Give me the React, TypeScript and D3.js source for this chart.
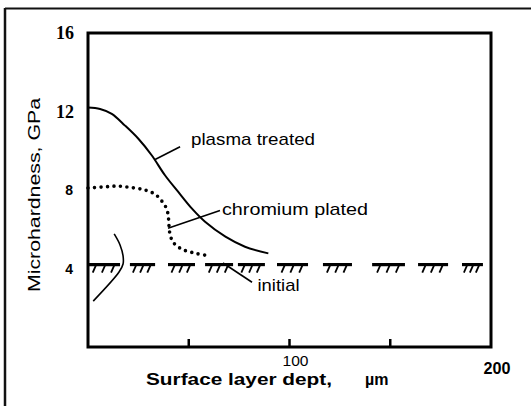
import React from "react";
import * as d3 from "d3";

// ---- data ----
const plasmaX = [0, 6, 11.8, 18.4, 25, 31.6, 38.2, 44.8, 51.5, 58.1, 68.2, 77.9, 89.5];
const plasmaY = [12.2, 12.13, 11.88, 11.28, 10.61, 9.77, 8.75, 7.9, 7.06, 6.38, 5.62, 5.11, 4.77];

const chromX = [0, 8.4, 14.9, 21.7, 28.3, 33.3, 36.6, 39.1, 39.9, 40.2, 40.7, 42.3, 46.5, 53.1, 59.7];
const chromY = [8.1, 8.16, 8.2, 8.12, 8.0, 7.78, 7.44, 7.02, 6.6, 6.17, 5.75, 5.33, 4.99, 4.78, 4.65];

const initialValue = 4.2;
const initialStart = [0, 20.8, 39.7, 58.1, 74.4, 93.8, 116.6, 141, 163.8, 185.6];
const initialEnd = [15.9, 33.3, 53.1, 72, 87.8, 109.2, 131, 157.3, 178.7, 196];

const bracketX = [13, 15.9, 17.4, 17.4, 15.4, 2.6];
const bracketY = [5.76, 5.2, 4.64, 4.23, 3.82, 2.34];

const yTicks = [16, 12, 8, 4];
const xTicks = [50, 100, 150];
const xTickLabels = [100, 200];

const W = 531;
const H = 406;

export default function App() {
  const x = d3.scaleLinear().domain([0, 200]).range([88, 491]);
  const y = d3.scaleLinear().domain([0, 16]).range([347, 33]);

  const line = d3
    .line<[number, number]>()
    .x((d) => x(d[0]))
    .y((d) => y(d[1]))
    .curve(d3.curveCatmullRom.alpha(0.5));

  const plasma = plasmaX.map((v, i) => [v, plasmaY[i]] as [number, number]);
  const chrom = chromX.map((v, i) => [v, chromY[i]] as [number, number]);
  const bracket = bracketX.map((v, i) => [v, bracketY[i]] as [number, number]);

  const sans = "'Liberation Sans', Arial, Helvetica, sans-serif";
  const serif = "'Liberation Serif', 'Times New Roman', serif";

  // leader lines in data units
  const leaders: [number, number, number, number][] = [
    [33.3, 9.55, 45.7, 10.2],
    [39.7, 6.05, 65.5, 6.95],
    [67, 4.28, 81.4, 3.3],
  ];

  const y0 = y(initialValue);

  return (
    <svg
      width={W}
      height={H}
      viewBox={`0 0 ${W} ${H}`}
      style={{ position: "absolute", left: 0, top: 0, background: "#fff" }}
    >
      <rect x={0} y={0} width={W} height={H} fill="#fff" />
      {/* outer frame */}
      <line x1={5} y1={8.5} x2={531} y2={8.5} stroke="#111" strokeWidth={2} />
      <line x1={5} y1={8} x2={5} y2={406} stroke="#111" strokeWidth={2.5} />

      {/* plot box */}
      <rect
        x={x(0)}
        y={y(16)}
        width={x(200) - x(0)}
        height={y(0) - y(16)}
        fill="none"
        stroke="#000"
        strokeWidth={3}
      />

      {/* x ticks (inside, upward) */}
      {xTicks.map((t) => (
        <line key={t} x1={x(t)} x2={x(t)} y1={y(0)} y2={y(0) - 8} stroke="#000" strokeWidth={2.5} />
      ))}

      {/* y tick labels */}
      {yTicks.map((t) => (
        <text
          key={t}
          x={t >= 10 ? 74 : 73}
          y={y(t)}
          dy="0.36em"
          textAnchor="end"
          fontFamily={t >= 10 ? serif : sans}
          fontWeight="bold"
          fontSize={t >= 10 ? 18 : 14}
          fill="#000"
        >
          {t}
        </text>
      ))}

      {/* x tick labels */}
      {xTickLabels.map((t) => (
        <text
          key={t}
          x={x(t) + 6}
          y={t === 200 ? 374 : 366}
          textAnchor="middle"
          fontFamily={sans}
          fontWeight={t === 200 ? "bold" : "normal"}
          fontSize={t === 200 ? 16 : 14}
          fill="#000"
          textLength={t === 200 ? 27 : 26}
          lengthAdjust="spacingAndGlyphs"
        >
          {t}
        </text>
      ))}

      {/* axis titles */}
      <text
        x={146}
        y={385}
        fontFamily={sans}
        fontSize={16}
        fill="#000"
        fontWeight="bold"
        textLength={186}
        lengthAdjust="spacingAndGlyphs"
      >
        Surface layer dept,
      </text>
      <text x={365} y={385} fontFamily={sans} fontSize={16} fontWeight="bold" fill="#000">
        µm
      </text>
      <text
        transform="translate(40,195) rotate(-90)"
        textAnchor="middle"
        fontFamily={sans}
        fontSize={17}
        fill="#000"
        textLength={194}
        lengthAdjust="spacingAndGlyphs"
      >
        Microhardness, GPa
      </text>

      {/* initial: hatched dashed line */}
      {initialStart.map((s, i) => {
        const xa = x(s);
        const xb = x(initialEnd[i]);
        const n = 3;
        const step = (xb - xa) / (n + 0.5);
        return (
          <g key={i}>
            <line x1={xa} x2={xb} y1={y0} y2={y0} stroke="#000" strokeWidth={3.2} />
            {d3.range(n).map((k) => {
              const hx = xa + step * (k + 0.9);
              return (
                <line
                  key={k}
                  x1={hx}
                  y1={y0}
                  x2={hx - 3.5}
                  y2={y0 + 8}
                  stroke="#000"
                  strokeWidth={1.8}
                />
              );
            })}
          </g>
        );
      })}

      {/* bracket */}
      <path d={line(bracket) || ""} fill="none" stroke="#000" strokeWidth={1.6} />

      {/* plasma treated */}
      <path d={line(plasma) || ""} fill="none" stroke="#000" strokeWidth={2} />

      {/* chromium plated (dotted) */}
      <path
        d={line(chrom) || ""}
        fill="none"
        stroke="#000"
        strokeWidth={3.6}
        strokeLinecap="round"
        strokeDasharray="0 6.5"
      />

      {/* leaders */}
      {leaders.map((l, i) => (
        <line
          key={i}
          x1={x(l[0])}
          y1={y(l[1])}
          x2={x(l[2])}
          y2={y(l[3])}
          stroke="#000"
          strokeWidth={1.6}
        />
      ))}

      {/* labels */}
      <text x={191} y={145} fontFamily={sans} fontSize={17} fill="#000" textLength={124} lengthAdjust="spacingAndGlyphs">
        plasma treated
      </text>
      <text x={222} y={215} fontFamily={sans} fontSize={17} fill="#000" textLength={146} lengthAdjust="spacingAndGlyphs">
        chromium plated
      </text>
      <text x={257.5} y={290.5} fontFamily={sans} fontSize={17} fill="#000" textLength={42} lengthAdjust="spacingAndGlyphs">
        initial
      </text>
    </svg>
  );
}
